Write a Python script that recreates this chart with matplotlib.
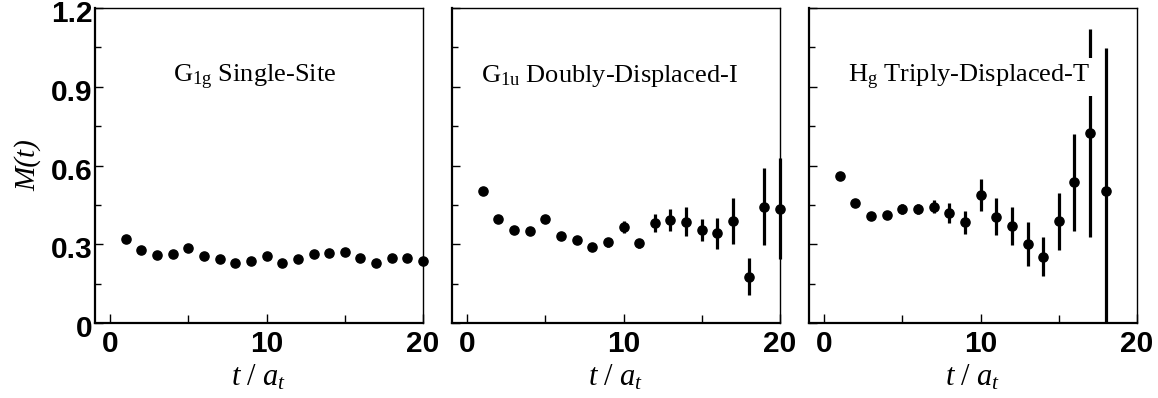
import numpy as np
import matplotlib.pyplot as plt
from matplotlib.ticker import MultipleLocator
from matplotlib.transforms import ScaledTranslation

# --- data ---
t = np.arange(1, 21)

m_single = [0.319, 0.277, 0.258, 0.262, 0.284, 0.255, 0.242, 0.229, 0.237, 0.257,
            0.229, 0.243, 0.261, 0.265, 0.271, 0.246, 0.230, 0.248, 0.249, 0.235]
e_single = [0.004, 0.004, 0.004, 0.004, 0.005, 0.005, 0.005, 0.005, 0.006, 0.006,
            0.006, 0.006, 0.007, 0.007, 0.007, 0.008, 0.008, 0.008, 0.009, 0.009]

m_doubly = [0.503, 0.398, 0.354, 0.350, 0.398, 0.331, 0.316, 0.290, 0.307, 0.366,
            0.303, 0.382, 0.392, 0.386, 0.354, 0.341, 0.388, 0.176, 0.443, 0.436]
e_doubly = [0.005, 0.006, 0.007, 0.008, 0.009, 0.010, 0.011, 0.013, 0.018, 0.024,
            0.016, 0.034, 0.041, 0.055, 0.043, 0.058, 0.087, 0.071, 0.146, 0.193]

t_triply = np.arange(1, 19)
m_triply = [0.561, 0.459, 0.407, 0.411, 0.434, 0.434, 0.443, 0.420, 0.383, 0.487,
            0.405, 0.370, 0.300, 0.252, 0.388, 0.536, 0.725, 0.503]
e_triply = [0.006, 0.008, 0.015, 0.015, 0.020, 0.020, 0.025, 0.038, 0.045, 0.062,
            0.071, 0.072, 0.083, 0.074, 0.109, 0.185, 0.396, 0.544]

titles = [r'G$_{\mathrm{1g}}$ Single-Site',
          r'G$_{\mathrm{1u}}$ Doubly-Displaced-I',
          r'H$_{\mathrm{g}}$ Triply-Displaced-T']
title_x = [4.0, 0.9, 1.5]

plt.rcParams['mathtext.fontset'] = 'custom'
plt.rcParams['mathtext.rm'] = 'Liberation Serif'
plt.rcParams['mathtext.it'] = 'Liberation Serif:italic'

W, H = 1158, 398
fig = plt.figure(figsize=(W / 100, H / 100), dpi=100)

lefts = [94.5, 451.5, 808.5]
panels = [(t, m_single, e_single), (t, m_doubly, e_doubly), (t_triply, m_triply, e_triply)]
tick_font = dict(fontfamily='Liberation Sans', fontweight='bold', fontsize=21.5)

for i, (x, y, e) in enumerate(panels):
    ax = fig.add_axes([lefts[i] / W, 75 / H, 328.5 / W, 315 / H])
    ax.set_xlim(-1, 20)
    ax.set_ylim(0, 1.2)
    eb = ax.errorbar(x, y, yerr=e, fmt='o', color='black', ms=6.6, elinewidth=2.3,
                     capsize=0, zorder=2)
    eb[0].set_clip_on(False)
    if i < 2:
        for coll in eb[2]:
            coll.set_clip_on(False)
    ax.xaxis.set_minor_locator(MultipleLocator(5))
    ax.yaxis.set_minor_locator(MultipleLocator(0.15))
    ax.tick_params(axis='both', which='both', direction='in', top=False, right=False)
    ax.tick_params(axis='x', which='major', length=6.5, width=1, pad=5)
    ax.tick_params(axis='x', which='minor', length=6, width=1)
    ax.tick_params(axis='y', which='major', length=6, width=1, pad=1.5)
    ax.tick_params(axis='y', which='minor', length=4, width=1)
    ax.set_xticks([0, 10, 20])
    ax.set_xticklabels(['0', '10', '20'], **tick_font)
    ax.set_yticks([0, 0.3, 0.6, 0.9, 1.2])
    if i == 0:
        ax.set_yticklabels(['0', '0.3', '0.6', '0.9', '1.2'], **tick_font)
        # labels sit a touch below their ticks in the original
        shift = ScaledTranslation(0, -3 / 100, fig.dpi_scale_trans)
        for lab in ax.get_yticklabels():
            lab.set_transform(lab.get_transform() + shift)
        ax.set_ylabel('M(t)', fontfamily='Liberation Serif', fontstyle='italic',
                      fontsize=21, labelpad=7)
    else:
        ax.set_yticklabels([])
    ax.set_xlabel(r'$t\ /\ a_t$', fontsize=22, labelpad=3)
    ax.spines['left'].set_linewidth(1.6)
    ax.spines['bottom'].set_linewidth(1.6)
    ax.spines['top'].set_linewidth(1.0)
    ax.spines['right'].set_linewidth(1.0)
    ax.text(title_x[i], 0.918, titles[i], fontfamily='Liberation Serif', fontsize=19,
            va='baseline', ha='left', zorder=3,
            bbox=dict(facecolor='white', edgecolor='none', pad=3))

fig.savefig('out.png', dpi=100)
